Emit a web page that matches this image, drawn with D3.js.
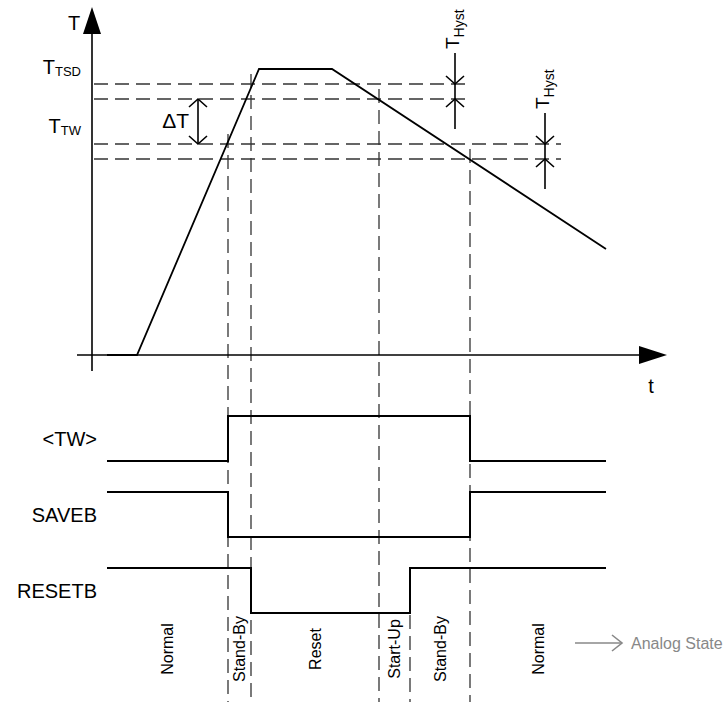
<!DOCTYPE html>
<html>
<head>
<meta charset="utf-8">
<script src="https://cdn.jsdelivr.net/npm/d3@7"></script>
<style>
  html, body { margin: 0; padding: 0; background: #fff; }
  svg { display: block; }
  text { font-family: "Liberation Sans", Arial, sans-serif; }
</style>
</head>
<body>
<svg id="chart"></svg>
<script>
// temperature profile (time units, temperature units above ambient)
var tempTime = [0, 30, 152, 225, 499];
var tempValue = [0, 0, 286, 286, 106];

// threshold levels: TSD on, TSD off, TW on, TW off
var thresholdValues = [271, 256, 211, 196];

// instants where the state changes
var eventTimes = [121, 144, 272, 303, 363];
// which threshold each event crosses (-1 = none)
var eventThreshold = [2, 0, 1, -1, 3];

var stateNames = ["Normal", "Stand-By", "Reset", "Start-Up", "Stand-By", "Normal"];

// digital signals
var signalNames = ["<TW>", "SAVEB", "RESETB"];
var twTimes = [0, 121, 363, 499];
var twLevels = [0, 1, 0, 0];
var savebTimes = [0, 121, 363, 499];
var savebLevels = [1, 0, 1, 1];
var resetbTimes = [0, 144, 303, 499];
var resetbLevels = [1, 0, 1, 1];

var width = 724,
  height = 702;

var svg = d3.select("#chart").attr("width", width).attr("height", height);

var x = d3.scaleLinear().domain([0, 500]).range([107, 607]);
var yT = d3.scaleLinear().domain([0, 286]).range([355, 69]);
var row = d3.scalePoint().domain(signalNames).range([416, 568]);
var lvl = d3.scaleLinear().domain([0, 1]).range([45, 0]);

var dash = "14,7";
var dashColor = "#333";

// ---- dashed threshold lines
var hystX = [x(348), x(438)];
var thrEnd = [x(363), x(363), x(454), x(454)];
svg.append("g")
  .selectAll("line")
  .data(thresholdValues)
  .enter()
  .append("line")
  .attr("x1", 94)
  .attr("x2", function (d, i) { return thrEnd[i]; })
  .attr("y1", function (d) { return yT(d); })
  .attr("y2", function (d) { return yT(d); })
  .attr("stroke", dashColor)
  .attr("stroke-width", 1.3)
  .attr("stroke-dasharray", dash);

// ---- dashed event lines
svg.append("g")
  .selectAll("line")
  .data(eventTimes)
  .enter()
  .append("line")
  .attr("x1", function (d) { return x(d); })
  .attr("x2", function (d) { return x(d); })
  .attr("y1", function (d, i) {
    var k = eventThreshold[i];
    if (k < 0) return row("RESETB") + lvl(0) + 2;
    return yT(thresholdValues[k]) - 10;
  })
  .attr("y2", height)
  .attr("stroke", dashColor)
  .attr("stroke-width", 1.3)
  .attr("stroke-dasharray", dash);

// ---- axes
var axisX = x(-15);
svg.append("line")
  .attr("x1", axisX).attr("x2", axisX)
  .attr("y1", 371).attr("y2", 30)
  .attr("stroke", "#000").attr("stroke-width", 1.6);
svg.append("path")
  .attr("d", "M" + axisX + ",7L" + (axisX + 9) + ",34L" + (axisX - 9) + ",34Z")
  .attr("fill", "#000");
svg.append("line")
  .attr("x1", x(-30)).attr("x2", 642)
  .attr("y1", yT(0)).attr("y2", yT(0))
  .attr("stroke", "#000").attr("stroke-width", 1.4);
svg.append("path")
  .attr("d", "M639," + (yT(0) - 9) + "L667," + yT(0) + "L639," + (yT(0) + 9) + "Z")
  .attr("fill", "#000");

svg.append("text").attr("x", 68).attr("y", 30).style("font-size", "20px").text("T");
svg.append("text").attr("x", 651).attr("y", 393).attr("text-anchor", "middle")
  .style("font-size", "20px").text("t");

// ---- temperature curve
var pts = tempTime.map(function (t, i) { return [t, tempValue[i]]; });
svg.append("path")
  .datum(pts)
  .attr("fill", "none")
  .attr("stroke", "#000")
  .attr("stroke-width", 1.8)
  .attr("d", d3.line()
    .x(function (d) { return x(d[0]); })
    .y(function (d) { return yT(d[1]); }));

// ---- threshold labels
function subLabel(g, tx, ty, main, sub, size, subSize, shift) {
  var t = g.append("text").attr("x", tx).attr("y", ty).attr("text-anchor", "end");
  t.append("tspan").style("font-size", size + "px").text(main);
  t.append("tspan").style("font-size", subSize + "px").attr("dy", shift).text(sub);
  return t;
}
subLabel(svg, 81, yT(thresholdValues[0]) - 10, "T", "TSD", 20, 13, 2);
subLabel(svg, 81, yT(thresholdValues[2]) - 11, "T", "TW", 20, 13, 2);

// ---- open arrow heads
function head(g, px, py, dir, color) {
  // dir: 1 pointing down, -1 pointing up, 2 pointing right
  var p;
  if (dir === 2) p = "M" + (px - 10) + "," + (py - 8) + "L" + px + "," + py + "L" + (px - 10) + "," + (py + 8);
  else p = "M" + (px - 9) + "," + (py - 8 * dir) + "L" + px + "," + py + "L" + (px + 9) + "," + (py - 8 * dir);
  g.append("path").attr("d", p).attr("fill", "none")
    .attr("stroke", color || "#000").attr("stroke-width", 1.6);
}

// delta T arrow
var dtX = x(91);
svg.append("line")
  .attr("x1", dtX).attr("x2", dtX)
  .attr("y1", yT(thresholdValues[1])).attr("y2", yT(thresholdValues[2]))
  .attr("stroke", "#000").attr("stroke-width", 1.6);
head(svg, dtX, yT(thresholdValues[1]), -1);
head(svg, dtX, yT(thresholdValues[2]), 1);
svg.append("text").attr("x", 189).attr("y", 128).attr("text-anchor", "end")
  .style("font-size", "21px").text("\u0394T");

// hysteresis arrows
[[0, 1], [2, 3]].forEach(function (pair, j) {
  var hx = hystX[j];
  var yTop = yT(thresholdValues[pair[0]]);
  var yBot = yT(thresholdValues[pair[1]]);
  svg.append("line")
    .attr("x1", hx).attr("x2", hx)
    .attr("y1", yTop - 31).attr("y2", yBot + 30)
    .attr("stroke", "#000").attr("stroke-width", 1.6);
  head(svg, hx, yTop, 1);
  head(svg, hx, yBot, -1);
  var t = svg.append("text")
    .attr("transform", "translate(" + (hx + 4) + "," + (yTop - 35) + ") rotate(-90)");
  t.append("tspan").style("font-size", "19px").text("T");
  t.append("tspan").style("font-size", "14px").attr("dy", 5).text("Hyst");
});

// ---- digital signals
var sigTimes = [twTimes, savebTimes, resetbTimes];
var sigLevels = [twLevels, savebLevels, resetbLevels];
var step = d3.line().curve(d3.curveStepAfter);

signalNames.forEach(function (name, i) {
  var p = sigTimes[i].map(function (t, k) {
    return [x(t), row(name) + lvl(sigLevels[i][k])];
  });
  svg.append("path")
    .attr("d", step(p))
    .attr("fill", "none")
    .attr("stroke", "#000")
    .attr("stroke-width", 2);
  svg.append("text")
    .attr("x", 97)
    .attr("y", row(name) + lvl(0.5))
    .attr("text-anchor", "end")
    .attr("dominant-baseline", "central")
    .style("font-size", "20px")
    .text(name);
});

// ---- state labels
var bounds = [0].concat(eventTimes, [499]);
svg.append("g")
  .selectAll("text")
  .data(stateNames)
  .enter()
  .append("text")
  .attr("transform", function (d, i) {
    var cx = (x(bounds[i]) + x(bounds[i + 1])) / 2;
    return "translate(" + cx + ",649) rotate(-90)";
  })
  .attr("text-anchor", "middle")
  .attr("dominant-baseline", "central")
  .style("font-size", "16px")
  .text(function (d) { return d; });

// ---- analog state legend
var grey = "#888";
svg.append("line")
  .attr("x1", 575).attr("x2", 622).attr("y1", 643).attr("y2", 643)
  .attr("stroke", grey).attr("stroke-width", 1.5);
head(svg, 622, 643, 2, grey);
svg.append("text").attr("x", 631).attr("y", 649)
  .style("font-size", "16px").style("fill", grey).text("Analog State");
</script>
</body>
</html>
